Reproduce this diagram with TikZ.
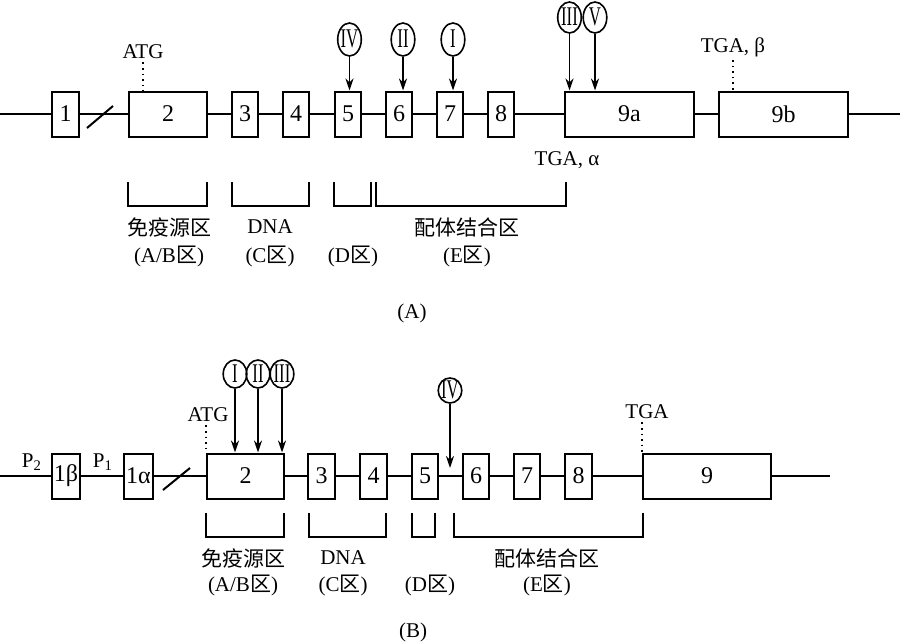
\documentclass[tikz,border=0pt]{standalone}
\usepackage{fontspec}
\setmainfont{Liberation Serif}
\newfontfamily\cjk{Noto Sans CJK SC}
\usepackage{graphicx}
\usetikzlibrary{arrows.meta,shapes.geometric}
\newcommand{\qu}{{\cjk 区}}
\newcommand{\rnum}[1]{\makebox[0pt]{\scalebox{0.62}[1]{#1}}}
\tikzset{
  exon/.style={draw, line width=1pt, minimum height=22.5pt, inner sep=0pt, font=\fontsize{12}{13}\selectfont},
  intron/.style={line width=1pt},
  site/.style={draw, ellipse, line width=0.8pt, inner sep=0pt, minimum width=11.8pt, text height=8pt, text depth=0pt, font=\fontsize{13.5}{14}\selectfont},
  hit/.style={line width=0.9pt, -{Stealth[length=6pt,width=4pt]}},
  tag/.style={font=\fontsize{10.5}{12}\selectfont, inner sep=1.5pt},
  region/.style={font=\fontsize{10.5}{12}\selectfont, inner sep=0pt},
  codondots/.style={dotted, line width=0.8pt},
  bracket/.style={line width=0.9pt}
}
\begin{document}
\begin{tikzpicture}
% gene maps, drawn on a 900 x 643 pixel grid
\def\pxsz{0.5pt}
\begin{scope}[x=\pxsz, y=-\pxsz, line cap=butt, line join=miter]
  \useasboundingbox (0,0) rectangle (900,643);
  % ---------------- (A) ----------------
  % Exons
  \node[exon, minimum width=13.5pt] (a1) at (65.5,114) {1};
  \node[exon, minimum width=39pt] (a2) at (168,114) {2};
  \node[exon, minimum width=13pt] (a3) at (245,114) {3};
  \node[exon, minimum width=13pt] (a4) at (296,114) {4};
  \node[exon, minimum width=13pt] (a5) at (348,114) {5};
  \node[exon, minimum width=13pt] (a6) at (399,114) {6};
  \node[exon, minimum width=13pt] (a7) at (450,114) {7};
  \node[exon, minimum width=13pt] (a8) at (501,114) {8};
  \node[exon, minimum width=64.5pt] (a9a) at (629.5,114) {9a};
  \node[exon, minimum width=64.5pt] (a9b) at (783.5,114) {9b};
  \coordinate (aL) at (0,114);
  \coordinate (aR) at (900,114);
  % Introns
  \foreach \p/\q in {aL/a1,a1/a2,a2/a3,a3/a4,a4/a5,a5/a6,a6/a7,a7/a8,a8/a9a,a9a/a9b,a9b/aR}
    \draw[intron] (\p) -- (\q);
  \draw[intron] (87,128) -- (113,106);
  % Start and stop codons
  \node[tag] (atgA) at (143,52) {ATG};
  \draw[codondots] (atgA.south) -- (atgA.south |- a2.north);
  \node[tag] (tgaB) at (733,47) {TGA, β};
  \draw[codondots] (tgaB.south) -- (tgaB.south |- a9b.north);
  \node[tag] (tgaA) at (567,160) {TGA, α};
  % Mutation sites
  \node[site, minimum height=16.5pt] (sA4) at (349.5,39.5) {\rnum{IV}};
  \node[site, minimum height=16.5pt] (sA2) at (403,39.5) {\rnum{II}};
  \node[site, minimum height=16.5pt] (sA1) at (453,39.5) {\rnum{I}};
  \node[site, minimum height=15.5pt] (sA3) at (569.5,17.5) {\rnum{III}};
  \node[site, minimum height=15.5pt] (sA5) at (595,17.5) {\rnum{V}};
  \draw[hit] (sA4) -- (sA4 |- a5.north);
  \draw[hit] (sA2) -- (sA2 |- a6.north);
  \draw[hit] (sA1) -- (sA1 |- a7.north);
  \draw[hit] (sA3) -- (sA3 |- a9a.north);
  \draw[hit] (sA5) -- (sA5 |- a9a.north);
  % Domains
  \draw[bracket] (128,182) |- (207,206) -- (207,182);
  \draw[bracket] (232,182) |- (309,206) -- (309,182);
  \draw[bracket] (334,182) |- (371,206) -- (371,182);
  \draw[bracket] (376,182) |- (566,206) -- (566,182);
  \node[region] (immA) at (169,227) {\cjk 免疫源区};
  \node[region] (abA) at (169,256) {(A/B\qu)};
  \node[region] (dnaA) at (270,227) {DNA};
  \node[region] (cA) at (270,256) {(C\qu)};
  \node[region] (dA) at (353,256) {(D\qu)};
  \node[region] (ligA) at (467,227) {\cjk 配体结合区};
  \node[region] (eA) at (467,256) {(E\qu)};
  \node[region] (capA) at (412,313) {(A)};
  % ---------------- (B) ----------------
  % Exons
  \node[exon, minimum width=14pt] (b1b) at (66,476) {1β};
  \node[exon, minimum width=14.5pt] (b1a) at (138.5,476) {1α};
  \node[exon, minimum width=38.5pt] (b2) at (245.5,476) {2};
  \node[exon, minimum width=13.5pt] (b3) at (321.5,476) {3};
  \node[exon, minimum width=13.5pt] (b4) at (373.5,476) {4};
  \node[exon, minimum width=13pt] (b5) at (425,476) {5};
  \node[exon, minimum width=13pt] (b6) at (476,476) {6};
  \node[exon, minimum width=13pt] (b7) at (527,476) {7};
  \node[exon, minimum width=13.5pt] (b8) at (578.5,476) {8};
  \node[exon, minimum width=64pt] (b9) at (707,476) {9};
  \coordinate (bL) at (0,476);
  \coordinate (bR) at (830,476);
  % Introns
  \foreach \p/\q in {bL/b1b,b1b/b1a,b1a/b2,b2/b3,b3/b4,b4/b5,b5/b6,b6/b7,b7/b8,b8/b9,b9/bR}
    \draw[intron] (\p) -- (\q);
  \draw[intron] (163,490) -- (190,468);
  % Promoters
  \node[tag] (p2) at (32,462) {P\textsubscript{2}};
  \node[tag] (p1) at (103,462) {P\textsubscript{1}};
  % Start and stop codons
  \node[tag] (atgB) at (208,415) {ATG};
  \draw[codondots] (atgB.south -| b2.west) -- (b2.north west);
  \node[tag] (tgaC) at (647,412) {TGA};
  \draw[codondots] (tgaC.south -| b9.west) -- (b9.north west);
  % Mutation sites
  \node[site, minimum height=14pt] (sB1) at (235,374) {\rnum{I}};
  \node[site, minimum height=14pt] (sB2) at (258,374) {\rnum{II}};
  \node[site, minimum height=14pt] (sB3) at (282,374) {\rnum{III}};
  \node[site, minimum height=12.5pt] (sB4) at (450,390.5) {\rnum{IV}};
  \coordinate (hitB4) at (450,468);
  \draw[hit] (sB1) -- (sB1 |- b2.north);
  \draw[hit] (sB2) -- (sB2 |- b2.north);
  \draw[hit] (sB3) -- (sB3 |- b2.north);
  \draw[hit] (sB4) -- (hitB4);
  % Domains
  \draw[bracket] (206,513) |- (284,537) -- (284,513);
  \draw[bracket] (309,513) |- (386,537) -- (386,513);
  \draw[bracket] (412,513) |- (435,537) -- (435,513);
  \draw[bracket] (454,513) |- (643,537) -- (643,513);
  \node[region] (immB) at (243,558) {\cjk 免疫源区};
  \node[region] (abB) at (243,585) {(A/B\qu)};
  \node[region] (dnaB) at (343,558) {DNA};
  \node[region] (cB) at (343,585) {(C\qu)};
  \node[region] (dB) at (430,585) {(D\qu)};
  \node[region] (ligB) at (547,558) {\cjk 配体结合区};
  \node[region] (eB) at (547,585) {(E\qu)};
  \node[region] (capB) at (413,632) {(B)};
\end{scope}
\end{tikzpicture}
\end{document}
